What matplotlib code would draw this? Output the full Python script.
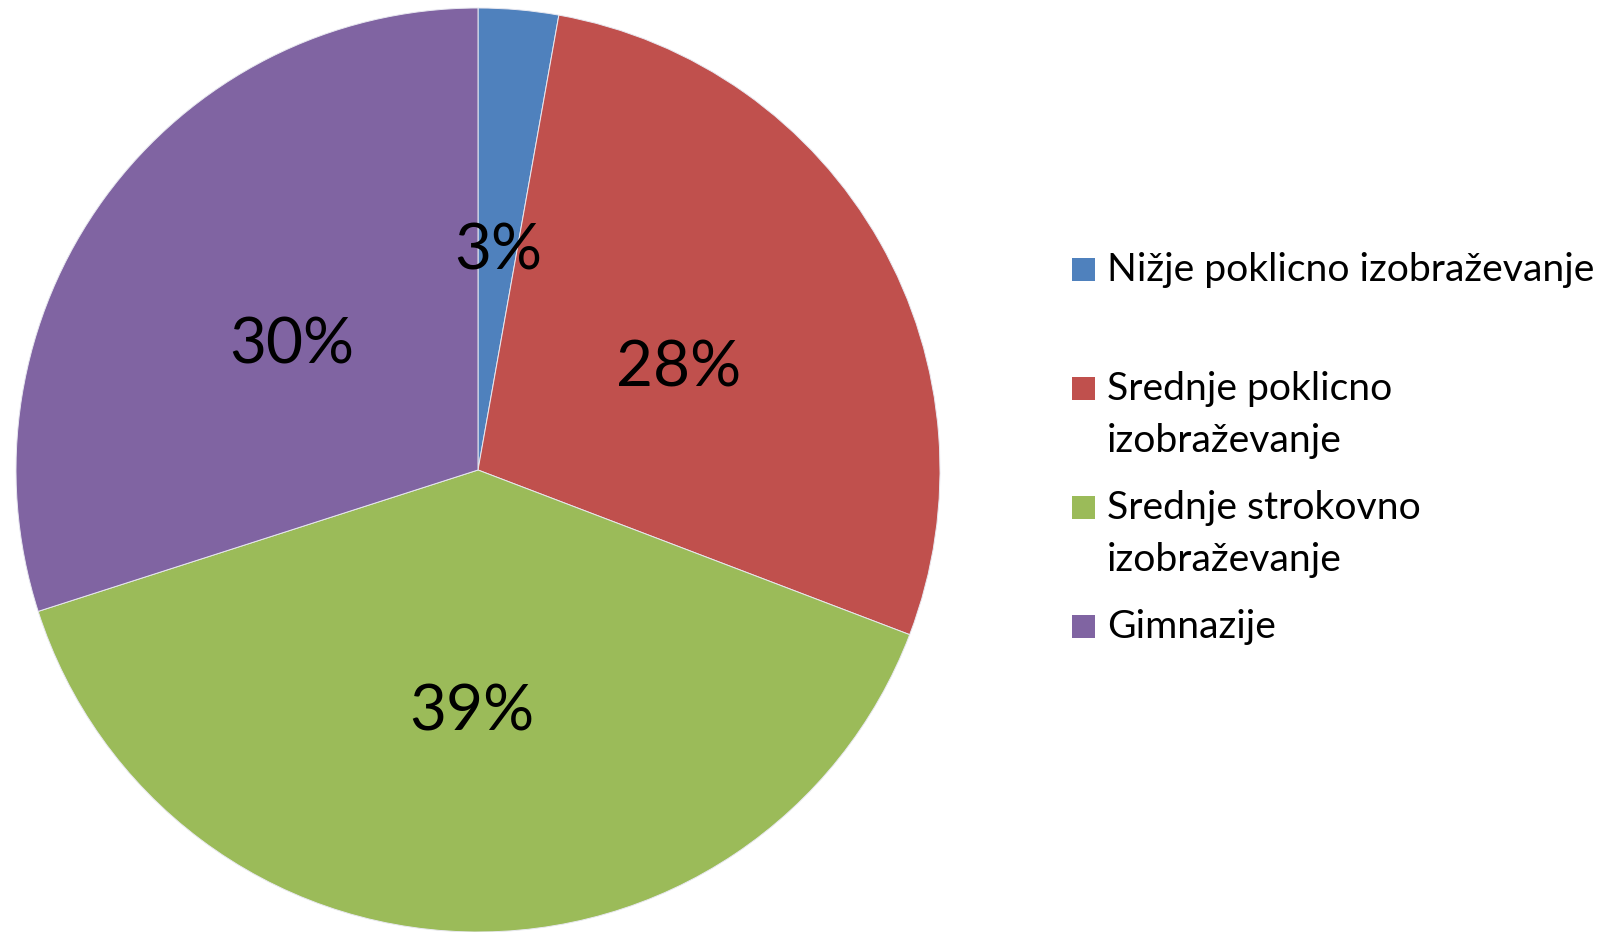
import textwrap
import matplotlib
matplotlib.use("Agg")
import matplotlib.pyplot as plt
from matplotlib.patches import Rectangle

plt.rcParams['font.family'] = ['Lato', 'DejaVu Sans']

categories = ["Nižje poklicno izobraževanje",
              "Srednje poklicno izobraževanje",
              "Srednje strokovno izobraževanje",
              "Gimnazije"]
shares = [2.8, 28.0, 39.25, 29.95]
colors = ["#4F81BD", "#C0504D", "#9BBB59", "#8064A2"]

W, H = 1603, 932
fig = plt.figure(figsize=(W / 100, H / 100), dpi=100)

#####pie: centre (478, 470) px, radius 462 px
cx, cy, r = 478, 470, 462
ax = fig.add_axes([(cx - r) / W, (H - cy - r) / H, 2 * r / W, 2 * r / H])
wedges, texts, autotexts = ax.pie(shares, colors=colors, startangle=90, counterclock=False,
                                  autopct='%.0f%%', pctdistance=0.5,
                                  wedgeprops=dict(edgecolor='#e8e8f0', linewidth=0.7))
fs = 46
cap = fs * 0.72 * 100 / 72  # cap height in px
for t in autotexts:
    t.set_fontsize(fs)
    t.set_color('black')
    t.set_va('baseline')
    x, y = t.get_position()
    t.set_position((x, y - (cap / 2 + 7) / r))  # middle of the digits a bit under the label point
ax.set_xlim(-1, 1)
ax.set_ylim(-1, 1)
ax.set_aspect('equal')
ax.axis('off')

#####legend drawn by hand so the square sits on the first line
sq = 23
box_x = 1072
text_x = 1107
first_y = 269
step = 119
line_gap = 52
for i, (name, col) in enumerate(zip(categories, colors)):
    yc = first_y + i * step
    fig.patches.append(Rectangle((box_x / W, (H - yc - sq / 2) / H), sq / W, sq / H,
                                 transform=fig.transFigure, facecolor=col, edgecolor='none'))
    for k, line in enumerate(textwrap.wrap(name, 28)):
        fig.text(text_x / W, (H - yc - 12 - k * line_gap) / H, line, fontsize=28.2,
                 va='baseline', ha='left')

fig.savefig("out.png", dpi=100)
